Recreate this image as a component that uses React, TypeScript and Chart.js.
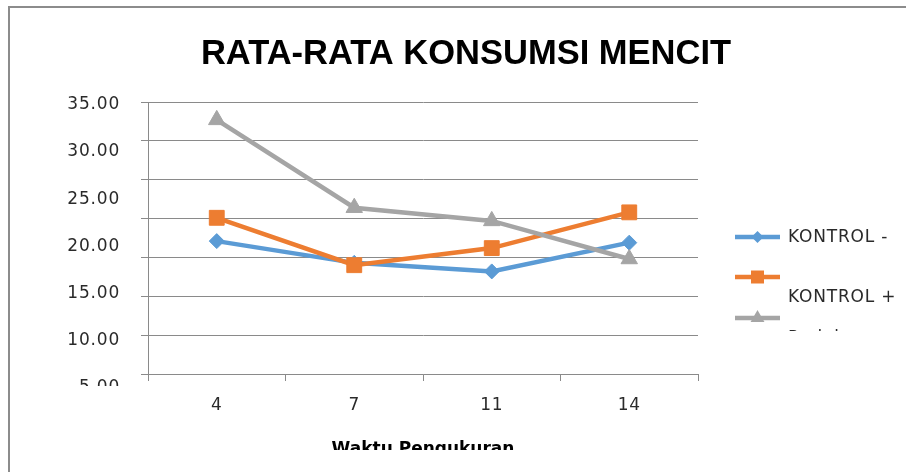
import React, { useEffect, useRef } from 'react';
import { Chart, registerables } from 'chart.js';

Chart.register(...registerables);

// ---- data ----
const chartTitle = 'RATA-RATA KONSUMSI MENCIT';
const xAxisTitle = 'Waktu Pengukuran';
const categories = ['4', '7', '11', '14'];
const seriesNames = ['KONTROL -', 'KONTROL +', 'Perlakuan'];
const kontrolMinus = [17.1, 14.3, 13.2, 16.9];
const kontrolPlus = [20.1, 14.0, 16.2, 20.8];
const perlakuan = [32.7, 21.4, 19.7, 14.8];
const yTickLabels = [35, 30, 25, 20, 15, 10, 5];

const COLORS = ['#5B9BD5', '#ED7D31', '#A5A5A5'];
const STYLES = ['rectRot', 'rect', 'triangle'];
const GRID = '#8a8a8a';
const TEXT = '#2a2a2a';

function drawMarker(ctx: CanvasRenderingContext2D, style: string, x: number, y: number, r: number, color: string) {
  ctx.save();
  ctx.fillStyle = color;
  ctx.beginPath();
  if (style === 'rectRot') {
    ctx.moveTo(x, y - r);
    ctx.lineTo(x + r, y);
    ctx.lineTo(x, y + r);
    ctx.lineTo(x - r, y);
    ctx.closePath();
  } else if (style === 'rect') {
    ctx.rect(x - r, y - r, 2 * r, 2 * r);
  } else {
    const h = r * 1.5;
    const s = r * Math.sqrt(3);
    ctx.moveTo(x, y - r);
    ctx.lineTo(x + s / 2, y - r + h);
    ctx.lineTo(x - s / 2, y - r + h);
    ctx.closePath();
  }
  ctx.fill();
  ctx.restore();
}

const framePlugin = {
  id: 'frameAndClip',
  beforeDraw(chart: any) {
    const ctx = chart.ctx as CanvasRenderingContext2D;
    const W = chart.width, H = chart.height;
    ctx.save();
    ctx.fillStyle = '#8c8c8c';
    ctx.fillRect(8, 6, W - 8, 2);
    ctx.fillRect(8, 6, 2, H - 6);
    ctx.restore();
    // clip the bottom-left corner (cut-off lowest y label), axes are drawn next
    ctx.save();
    ctx.beginPath();
    ctx.rect(0, 0, W, H);
    ctx.rect(0, 386, 146, H - 386);
    ctx.clip('evenodd');
    (ctx as any).letterSpacing = '0.8px';
  },
  beforeDatasetsDraw(chart: any) {
    chart.ctx.restore();
  },
  afterDraw(chart: any) {
    const ctx = chart.ctx as CanvasRenderingContext2D;
    const area = chart.chartArea;
    // title
    ctx.save();
    (ctx as any).letterSpacing = '0px';
    ctx.font = 'bold 34.5px "Liberation Sans", Arial, sans-serif';
    ctx.fillStyle = '#000';
    ctx.textAlign = 'center';
    ctx.textBaseline = 'alphabetic';
    ctx.fillText(chartTitle, 466, 64);
    ctx.restore();

    // x axis title (cut off at the bottom like the reference)
    ctx.save();
    ctx.beginPath();
    ctx.rect(0, 0, chart.width, 450);
    ctx.clip();
    (ctx as any).letterSpacing = '0px';
    ctx.font = 'bold 17px "DejaVu Sans", sans-serif';
    ctx.fillStyle = '#000';
    ctx.textAlign = 'center';
    ctx.textBaseline = 'alphabetic';
    ctx.fillText(xAxisTitle, (area.left + area.right) / 2, 453.5);
    ctx.restore();

    // legend
    const rows = [
      { line: 237, text: 238, clip: 472, r: 6 },
      { line: 277, text: 298, clip: 472, r: 6.5 },
      { line: 318, text: 339, clip: 331, r: 8 },
    ];
    chart.data.datasets.forEach((ds: any, i: number) => {
      const row = rows[i];
      ctx.save();
      ctx.strokeStyle = ds.borderColor;
      ctx.lineWidth = 4.5;
      ctx.beginPath();
      ctx.moveTo(735, row.line);
      ctx.lineTo(780, row.line);
      ctx.stroke();
      drawMarker(ctx, ds.pointStyle, 757.5, row.line, row.r, ds.borderColor);
      ctx.beginPath();
      ctx.rect(700, 0, 206, row.clip);
      ctx.clip();
      (ctx as any).letterSpacing = '0.8px';
      ctx.font = '17px "DejaVu Sans", sans-serif';
      ctx.fillStyle = TEXT;
      ctx.textAlign = 'left';
      ctx.textBaseline = 'middle';
      ctx.fillText(ds.label, 788, row.text);
      ctx.restore();
    });
  },
};

export default function App() {
  const ref = useRef<HTMLCanvasElement>(null);

  useEffect(() => {
    if (!ref.current) return;
    const seriesValues = [kontrolMinus, kontrolPlus, perlakuan];
    const pointRadii = [7.5, 10.5, 9.5];
    const chart = new Chart(ref.current, {
      type: 'line',
      data: {
        labels: categories,
        datasets: seriesValues.map((vals, i) => ({
          label: seriesNames[i],
          data: vals,
          borderColor: COLORS[i],
          backgroundColor: COLORS[i],
          borderWidth: 4.5,
          pointStyle: STYLES[i] as any,
          pointRadius: pointRadii[i],
          pointBorderWidth: 1,
          pointBorderColor: COLORS[i],
          pointBackgroundColor: COLORS[i],
          tension: 0,
          fill: false,
          order: 3 - i,
          yAxisID: 'y',
        })),
      },
      options: {
        animation: false,
        responsive: false,
        maintainAspectRatio: false,
        devicePixelRatio: 1,
        layout: { padding: { left: 0, top: 102, right: 208, bottom: 0 } },
        plugins: {
          legend: { display: false },
          title: { display: false },
          tooltip: { enabled: false },
        },
        scales: {
          x: {
            type: 'category',
            offset: true,
            grid: { display: true, drawOnChartArea: false, drawTicks: true, tickLength: 7, color: GRID, offset: true },
            border: { display: true, color: GRID, width: 1 },
            ticks: { color: TEXT, font: { family: 'DejaVu Sans', size: 17 }, padding: 14, autoSkip: false, maxRotation: 0 },
            afterFit: (s: any) => { s.height = 98; },
          },
          y: {
            type: 'linear',
            position: 'left',
            weight: 0,
            min: 0,
            max: 35,
            ticks: { display: false, stepSize: 5 },
            grid: { color: GRID, tickLength: 7, drawTicks: true },
            border: { display: true, color: GRID, width: 1 },
            afterFit: (s: any) => { s.width = 10; },
          },
          y2: {
            type: 'linear',
            position: 'left',
            weight: 1,
            min: 6.42,
            max: 35.32,
            grid: { display: false },
            border: { display: false },
            ticks: {
              color: TEXT,
              font: { family: 'DejaVu Sans', size: 17 },
              padding: 10,
              autoSkip: false,
              includeBounds: false,
              callback: (v: any) => Number(v).toFixed(2),
            },
            afterBuildTicks: (s: any) => { s.ticks = yTickLabels.map((v) => ({ value: v })); },
            afterFit: (s: any) => { s.width = 138; },
          },
        },
      } as any,
      plugins: [framePlugin],
    });
    return () => chart.destroy();
  }, []);

  return (
    <div style={{ position: 'fixed', left: 0, top: 0, width: 906, height: 472, background: '#fff' }}>
      <canvas ref={ref} width={906} height={472} style={{ display: 'block', width: 906, height: 472 }} />
    </div>
  );
}
